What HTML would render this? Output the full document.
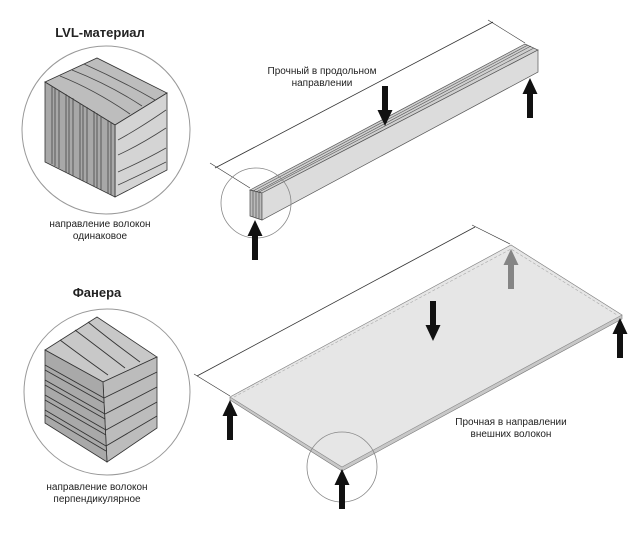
<!DOCTYPE html>
<html><head><meta charset="utf-8"><style>
html,body{margin:0;padding:0;background:#fff;}
svg{display:block;}
text{font-family:"Liberation Sans","DejaVu Sans",sans-serif;fill:#222;}
</style></head><body>
<svg width="642" height="538" viewBox="0 0 642 538" xmlns="http://www.w3.org/2000/svg">
<defs>
<g id="up"><polygon points="0,0 7.5,16 3,16 3,40 -3,40 -3,16 -7.5,16" fill="#111"/></g>
</defs>

<!-- LVL -->
<text x="100" y="37" font-size="13" font-weight="bold" text-anchor="middle">LVL-материал</text>
<circle cx="106" cy="130" r="84" fill="none" stroke="#999" stroke-width="1"/>
<polygon points="45,82 97,58 167,93 115,125" fill="#bdbdbd" stroke="#333" stroke-width="0.8"/>
<polygon points="115,125 167,93 167,170 115,197" fill="#d4d4d4" stroke="#333" stroke-width="0.8"/>
<polygon points="45,82 115,125 115,197 45,162" fill="#a8a8a8" stroke="#333" stroke-width="0.8"/>
<g stroke="#444" stroke-width="0.8" fill="none">
<path d="M59,90 V168 M73,98 V176 M87,107 V183 M101,116 V190"/>
<path d="M52,86 V164 M55,88 V166 M66,94 V172 M69,96 V174 M80,103 V179 M83,105 V181 M94,111 V186 M97,113 V188 M108,120 V193 M111,122 V195"/>
<path d="M60,76 Q95,90 130,114 M72,70 Q110,85 142,106 M84,64 Q120,80 155,100"/>
<path d="M118,140 Q140,128 166,110 M118,155 Q140,145 166,128 M118,172 Q145,160 166,148 M118,185 Q140,175 166,162"/>
</g>
<text x="100" y="227" font-size="10" text-anchor="middle">направление волокон</text>
<text x="100" y="239" font-size="10" text-anchor="middle">одинаковое</text>

<!-- Plywood -->
<text x="97" y="297" font-size="13" font-weight="bold" text-anchor="middle">Фанера</text>
<circle cx="107" cy="392" r="83" fill="none" stroke="#999" stroke-width="1"/>
<polygon points="45,350 97,317 157,357 103,382" fill="#c8c8c8" stroke="#333" stroke-width="0.8"/>
<polygon points="103,382 157,357 157,428 107,462" fill="#bcbcbc" stroke="#333" stroke-width="0.8"/>
<polygon points="45,350 103,382 107,462 45,423" fill="#a9a9a9" stroke="#333" stroke-width="0.8"/>
<g stroke="#333" stroke-width="0.9" fill="none">
<path d="M45,365 L104,398 L157,372 M45,380 L105,414 L157,387 M45,395 L106,430 L157,402 M45,410 L106,446 L157,416"/>
<path d="M45,370 L104,403 M45,385 L105,419 M45,400 L106,435 M45,415 L106,451"/>
<path d="M60,340 Q80,355 108,375 M75,330 Q95,345 125,368 M88,322 Q110,340 140,362"/>
</g>
<text x="97" y="490" font-size="10" text-anchor="middle">направление волокон</text>
<text x="97" y="502" font-size="10" text-anchor="middle">перпендикулярное</text>

<!-- Beam -->
<line x1="215" y1="168" x2="493" y2="22" stroke="#333" stroke-width="0.8"/>
<line x1="210" y1="163" x2="250" y2="188" stroke="#333" stroke-width="0.6"/>
<line x1="488" y1="20" x2="525" y2="43" stroke="#333" stroke-width="0.6"/>
<polygon points="250,190 525,44 538,50 262,193" fill="#cfcfcf" stroke="#555" stroke-width="0.7"/>
<g stroke="#555" stroke-width="0.6"><line x1="253" y1="191" x2="528" y2="45"/><line x1="256" y1="192" x2="531" y2="46"/><line x1="259" y1="192" x2="534" y2="48"/></g>
<polygon points="250,190 262,193 262,220 250,216" fill="#bbb" stroke="#444" stroke-width="0.7"/>
<g stroke="#444" stroke-width="0.6"><line x1="253" y1="191" x2="253" y2="217"/><line x1="256" y1="192" x2="256" y2="218"/><line x1="259" y1="192" x2="259" y2="219"/></g>
<polygon points="262,193 538,50 538,72 262,220" fill="#dcdcdc" stroke="#555" stroke-width="0.7"/>
<circle cx="256" cy="203" r="35" fill="none" stroke="#888" stroke-width="0.8"/>
<use href="#up" x="255" y="220"/>
<use href="#up" x="530" y="78"/>
<use href="#up" transform="translate(385,126) rotate(180)"/>
<text x="322" y="74" font-size="10" text-anchor="middle">Прочный в продольном</text>
<text x="322" y="86" font-size="10" text-anchor="middle">направлении</text>

<!-- Panel -->
<line x1="197" y1="376" x2="475" y2="227" stroke="#333" stroke-width="0.8"/>
<line x1="194" y1="374" x2="230" y2="396" stroke="#333" stroke-width="0.6"/>
<line x1="472" y1="225" x2="510" y2="244" stroke="#333" stroke-width="0.6"/>
<polygon points="230,397 511,245 622,315 622,319 342,471 230,400" fill="#c8c8c8" stroke="#777" stroke-width="0.6"/>
<polygon points="230,397 511,245 622,315 342,467" fill="#e6e6e6" stroke="#888" stroke-width="0.6"/>
<polyline points="234,397 511,249 617,315" fill="none" stroke="#aaa" stroke-width="0.6" stroke-dasharray="3,2"/>
<circle cx="342" cy="467" r="35" fill="none" stroke="#888" stroke-width="0.8"/>
<use href="#up" x="230" y="400"/>
<use href="#up" x="342" y="469"/>
<use href="#up" x="620" y="318"/>
<g opacity="0.45"><use href="#up" x="511" y="249"/></g>
<use href="#up" transform="translate(433,341) rotate(180)"/>
<text x="511" y="425" font-size="10" text-anchor="middle">Прочная в направлении</text>
<text x="511" y="437" font-size="10" text-anchor="middle">внешних волокон</text>
</svg>
</body></html>
